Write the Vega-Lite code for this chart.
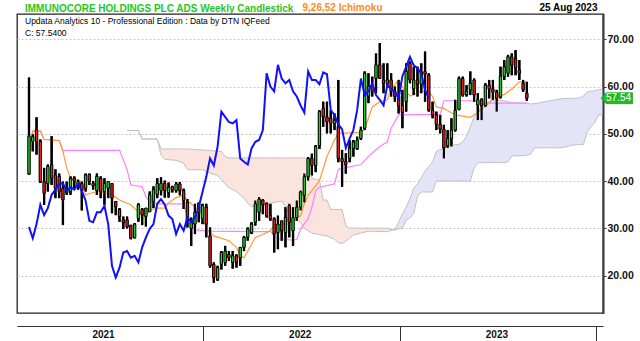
{
 "$schema": "https://vega.github.io/schema/vega-lite/v6.json",
 "width": 586, "height": 299,
 "autosize": {"type": "none"},
 "padding": {"left": 17, "top": 14, "right": 37, "bottom": 28},
 "background": "#ffffff",
 "title": {"text": "IMMUNOCORE HOLDINGS PLC ADS Weekly Candlestick", "subtitle": ["Updata Analytics 10 - Professional Edition : Data by DTN IQFeed", "C: 57.5400"], "anchor": "start", "frame": "group", "orient": "top", "offset": -35, "dx": 8, "font": "Liberation Sans", "fontSize": 10, "fontWeight": "bold", "color": "#1ec81e", "subtitleFont": "Liberation Sans", "subtitleFontSize": 8.5, "subtitleColor": "#000000", "subtitlePadding": 3, "subtitleLineHeight": 12},
 "config": {"view": {"stroke": "#222222", "strokeWidth": 1.3}, "font": "Liberation Sans"},
 "datasets": {
  "candles": [
{"d":"2021-02-12","o":41.5,"h":61.9,"l":41.3,"c":49.5},
{"d":"2021-02-19","o":48.4,"h":49.9,"l":46.3,"c":49.4},
{"d":"2021-02-26","o":50.9,"h":53.5,"l":45.6,"c":48.4},
{"d":"2021-03-05","o":48.4,"h":48.8,"l":39.6,"c":39.9},
{"d":"2021-03-12","o":39.9,"h":42.8,"l":35.0,"c":37.4},
{"d":"2021-03-19","o":39.5,"h":43.5,"l":37.8,"c":43.1},
{"d":"2021-03-26","o":43.5,"h":49.5,"l":39.2,"c":40.6},
{"d":"2021-04-02","o":41.3,"h":42.5,"l":36.4,"c":38.5},
{"d":"2021-04-09","o":41.0,"h":41.6,"l":36.4,"c":37.8},
{"d":"2021-04-16","o":38.5,"h":39.9,"l":30.7,"c":36.0},
{"d":"2021-04-23","o":37.5,"h":39.9,"l":37.1,"c":38.5},
{"d":"2021-04-30","o":37.8,"h":41.0,"l":37.1,"c":40.6},
{"d":"2021-05-07","o":40.6,"h":41.0,"l":38.5,"c":40.0},
{"d":"2021-05-14","o":38.8,"h":40.3,"l":38.2,"c":39.9},
{"d":"2021-05-21","o":39.5,"h":39.9,"l":33.8,"c":38.0},
{"d":"2021-05-28","o":38.5,"h":41.6,"l":37.8,"c":41.3},
{"d":"2021-06-04","o":41.4,"h":41.6,"l":39.2,"c":40.0},
{"d":"2021-06-11","o":39.5,"h":40.0,"l":38.2,"c":39.0},
{"d":"2021-06-18","o":38.0,"h":41.6,"l":37.1,"c":41.0},
{"d":"2021-06-25","o":40.6,"h":41.0,"l":36.4,"c":37.8},
{"d":"2021-07-02","o":37.8,"h":40.6,"l":35.0,"c":39.5},
{"d":"2021-07-09","o":38.5,"h":39.9,"l":36.4,"c":39.9},
{"d":"2021-07-16","o":39.5,"h":39.5,"l":33.2,"c":36.4},
{"d":"2021-07-23","o":35.7,"h":35.7,"l":32.8,"c":34.6},
{"d":"2021-07-30","o":34.0,"h":34.3,"l":31.4,"c":32.5},
{"d":"2021-08-06","o":31.8,"h":32.5,"l":29.9,"c":31.2},
{"d":"2021-08-13","o":31.8,"h":32.5,"l":30.0,"c":30.3},
{"d":"2021-08-20","o":30.7,"h":30.7,"l":27.7,"c":27.9},
{"d":"2021-08-27","o":28.0,"h":31.1,"l":27.9,"c":30.9},
{"d":"2021-09-03","o":32.1,"h":35.3,"l":31.4,"c":35.0},
{"d":"2021-09-10","o":34.0,"h":34.3,"l":30.7,"c":32.8},
{"d":"2021-09-17","o":32.5,"h":34.3,"l":30.4,"c":34.3},
{"d":"2021-09-24","o":33.5,"h":37.8,"l":33.5,"c":37.1},
{"d":"2021-10-01","o":35.7,"h":38.9,"l":34.3,"c":38.2},
{"d":"2021-10-08","o":37.2,"h":40.6,"l":36.4,"c":39.5},
{"d":"2021-10-15","o":38.0,"h":40.8,"l":37.0,"c":39.5},
{"d":"2021-10-22","o":39.5,"h":40.1,"l":36.5,"c":38.0},
{"d":"2021-10-29","o":37.6,"h":39.7,"l":36.5,"c":38.7},
{"d":"2021-11-05","o":38.8,"h":39.0,"l":37.6,"c":38.2},
{"d":"2021-11-12","o":38.0,"h":39.8,"l":37.6,"c":39.4},
{"d":"2021-11-19","o":39.4,"h":39.8,"l":37.0,"c":38.0},
{"d":"2021-11-26","o":38.0,"h":38.4,"l":34.1,"c":35.9},
{"d":"2021-12-03","o":35.5,"h":36.2,"l":30.2,"c":31.6},
{"d":"2021-12-10","o":30.0,"h":32.3,"l":26.3,"c":31.3},
{"d":"2021-12-17","o":30.9,"h":35.2,"l":28.8,"c":33.4},
{"d":"2021-12-24","o":35.2,"h":35.5,"l":31.3,"c":33.4},
{"d":"2021-12-31","o":32.0,"h":35.2,"l":30.9,"c":34.8},
{"d":"2022-01-07","o":34.5,"h":35.2,"l":28.1,"c":30.9},
{"d":"2022-01-14","o":28.4,"h":30.2,"l":21.7,"c":22.1},
{"d":"2022-01-21","o":22.4,"h":22.8,"l":18.5,"c":19.6},
{"d":"2022-01-28","o":19.2,"h":22.1,"l":18.9,"c":21.7},
{"d":"2022-02-04","o":22.4,"h":25.2,"l":21.3,"c":24.9},
{"d":"2022-02-11","o":22.8,"h":26.3,"l":22.1,"c":25.2},
{"d":"2022-02-18","o":24.5,"h":25.2,"l":23.1,"c":23.8},
{"d":"2022-02-25","o":22.8,"h":25.2,"l":21.5,"c":24.2},
{"d":"2022-03-04","o":24.2,"h":24.5,"l":21.7,"c":22.8},
{"d":"2022-03-11","o":23.8,"h":26.0,"l":22.1,"c":26.0},
{"d":"2022-03-18","o":26.0,"h":28.4,"l":25.2,"c":28.1},
{"d":"2022-03-25","o":28.1,"h":30.2,"l":27.4,"c":29.9},
{"d":"2022-04-01","o":29.1,"h":31.3,"l":28.8,"c":30.9},
{"d":"2022-04-08","o":31.3,"h":35.9,"l":30.6,"c":35.2},
{"d":"2022-04-15","o":33.4,"h":36.6,"l":31.6,"c":36.2},
{"d":"2022-04-22","o":36.0,"h":36.2,"l":33.0,"c":35.0},
{"d":"2022-04-29","o":35.3,"h":35.5,"l":32.3,"c":32.7},
{"d":"2022-05-06","o":32.7,"h":35.2,"l":31.6,"c":32.0},
{"d":"2022-05-13","o":32.0,"h":32.3,"l":24.9,"c":28.8},
{"d":"2022-05-20","o":29.1,"h":32.7,"l":25.6,"c":30.9},
{"d":"2022-05-27","o":31.6,"h":31.6,"l":27.4,"c":29.5},
{"d":"2022-06-03","o":29.1,"h":34.5,"l":26.0,"c":32.3},
{"d":"2022-06-10","o":34.8,"h":35.2,"l":28.1,"c":31.3},
{"d":"2022-06-17","o":29.5,"h":34.5,"l":26.3,"c":32.3},
{"d":"2022-06-24","o":32.3,"h":35.9,"l":31.6,"c":34.5},
{"d":"2022-07-01","o":34.5,"h":38.0,"l":33.8,"c":37.7},
{"d":"2022-07-08","o":37.0,"h":41.6,"l":35.5,"c":40.9},
{"d":"2022-07-15","o":40.9,"h":45.1,"l":40.1,"c":44.8},
{"d":"2022-07-22","o":44.8,"h":45.8,"l":41.2,"c":43.3},
{"d":"2022-07-29","o":43.3,"h":47.6,"l":41.9,"c":47.3},
{"d":"2022-08-05","o":47.5,"h":55.0,"l":46.8,"c":54.7},
{"d":"2022-08-12","o":55.4,"h":56.8,"l":51.5,"c":53.6},
{"d":"2022-08-19","o":53.6,"h":56.8,"l":50.1,"c":52.5},
{"d":"2022-08-26","o":53.3,"h":55.0,"l":50.1,"c":52.2},
{"d":"2022-09-02","o":52.2,"h":54.3,"l":50.8,"c":52.9},
{"d":"2022-09-09","o":51.5,"h":61.4,"l":44.0,"c":44.8},
{"d":"2022-09-16","o":44.8,"h":46.6,"l":38.8,"c":44.1},
{"d":"2022-09-23","o":44.1,"h":45.9,"l":41.6,"c":43.5},
{"d":"2022-09-30","o":44.8,"h":48.7,"l":44.0,"c":46.9},
{"d":"2022-10-07","o":46.9,"h":48.7,"l":45.2,"c":48.3},
{"d":"2022-10-14","o":46.8,"h":49.4,"l":46.6,"c":48.7},
{"d":"2022-10-21","o":49.0,"h":51.5,"l":48.7,"c":50.8},
{"d":"2022-10-28","o":51.2,"h":63.2,"l":50.8,"c":62.8},
{"d":"2022-11-04","o":58.0,"h":62.8,"l":56.5,"c":60.0},
{"d":"2022-11-11","o":60.0,"h":62.1,"l":57.9,"c":59.0},
{"d":"2022-11-18","o":61.7,"h":67.0,"l":58.6,"c":64.6},
{"d":"2022-11-25","o":64.6,"h":69.2,"l":62.1,"c":61.7},
{"d":"2022-12-02","o":61.4,"h":64.9,"l":58.6,"c":60.7},
{"d":"2022-12-09","o":60.7,"h":64.9,"l":60.0,"c":61.4},
{"d":"2022-12-16","o":61.4,"h":62.8,"l":57.9,"c":59.0},
{"d":"2022-12-23","o":59.0,"h":60.0,"l":56.8,"c":57.9},
{"d":"2022-12-30","o":58.0,"h":61.4,"l":54.3,"c":56.0},
{"d":"2023-01-06","o":56.0,"h":59.3,"l":51.2,"c":54.5},
{"d":"2023-01-13","o":56.8,"h":64.9,"l":54.7,"c":63.2},
{"d":"2023-01-20","o":64.9,"h":65.3,"l":60.7,"c":61.4},
{"d":"2023-01-27","o":59.5,"h":64.2,"l":58.2,"c":61.4},
{"d":"2023-02-03","o":61.4,"h":64.2,"l":57.9,"c":60.5},
{"d":"2023-02-10","o":60.5,"h":64.9,"l":58.6,"c":63.0},
{"d":"2023-02-17","o":63.2,"h":67.4,"l":56.8,"c":62.6},
{"d":"2023-02-24","o":62.4,"h":62.8,"l":54.7,"c":55.0},
{"d":"2023-03-03","o":55.0,"h":56.8,"l":53.3,"c":54.0},
{"d":"2023-03-10","o":54.0,"h":54.7,"l":50.8,"c":52.0},
{"d":"2023-03-17","o":52.0,"h":54.0,"l":50.1,"c":51.0},
{"d":"2023-03-24","o":51.0,"h":51.9,"l":44.8,"c":47.0},
{"d":"2023-03-31","o":47.5,"h":50.8,"l":47.0,"c":49.0},
{"d":"2023-04-07","o":49.0,"h":53.3,"l":47.3,"c":50.8},
{"d":"2023-04-14","o":50.8,"h":57.2,"l":50.5,"c":55.0},
{"d":"2023-04-21","o":55.2,"h":62.1,"l":55.0,"c":61.7},
{"d":"2023-04-28","o":61.7,"h":62.1,"l":57.9,"c":58.2},
{"d":"2023-05-05","o":58.3,"h":60.3,"l":57.9,"c":59.0},
{"d":"2023-05-12","o":59.3,"h":63.2,"l":58.2,"c":60.7},
{"d":"2023-05-19","o":61.4,"h":61.7,"l":56.8,"c":58.2},
{"d":"2023-05-26","o":56.1,"h":58.6,"l":52.9,"c":57.2},
{"d":"2023-06-02","o":57.2,"h":57.5,"l":52.9,"c":56.0},
{"d":"2023-06-09","o":56.0,"h":60.7,"l":55.7,"c":60.3},
{"d":"2023-06-16","o":60.3,"h":61.4,"l":57.5,"c":59.5},
{"d":"2023-06-23","o":59.5,"h":61.4,"l":57.2,"c":58.8},
{"d":"2023-06-30","o":58.8,"h":59.3,"l":54.7,"c":57.5},
{"d":"2023-07-07","o":57.8,"h":64.2,"l":57.5,"c":62.2},
{"d":"2023-07-14","o":62.2,"h":65.6,"l":61.4,"c":64.2},
{"d":"2023-07-21","o":62.8,"h":66.7,"l":62.1,"c":66.3},
{"d":"2023-07-28","o":66.3,"h":67.0,"l":62.4,"c":64.5},
{"d":"2023-08-04","o":65.9,"h":67.7,"l":62.4,"c":63.9},
{"d":"2023-08-11","o":63.5,"h":65.6,"l":61.4,"c":62.8},
{"d":"2023-08-18","o":60.7,"h":61.4,"l":58.9,"c":59.3},
{"d":"2023-08-25","o":58.6,"h":61.0,"l":57.0,"c":57.54}
  ],
  "chikou": [
{"d":"2021-02-12","v":30.3},{"d":"2021-02-19","v":27.9},{"d":"2021-02-26","v":30.9},{"d":"2021-03-05","v":35.0},{"d":"2021-03-12","v":32.8},{"d":"2021-03-19","v":34.3},{"d":"2021-03-26","v":37.1},{"d":"2021-04-02","v":38.2},{"d":"2021-04-09","v":39.5},{"d":"2021-04-16","v":39.5},{"d":"2021-04-23","v":38.0},{"d":"2021-04-30","v":38.7},{"d":"2021-05-07","v":38.2},{"d":"2021-05-14","v":39.4},{"d":"2021-05-21","v":38.0},{"d":"2021-05-28","v":35.9},{"d":"2021-06-04","v":31.6},{"d":"2021-06-11","v":31.3},{"d":"2021-06-18","v":33.4},{"d":"2021-06-25","v":33.4},{"d":"2021-07-02","v":34.8},{"d":"2021-07-09","v":30.9},{"d":"2021-07-16","v":22.1},{"d":"2021-07-23","v":19.6},{"d":"2021-07-30","v":21.7},{"d":"2021-08-06","v":24.9},{"d":"2021-08-13","v":25.2},{"d":"2021-08-20","v":23.8},{"d":"2021-08-27","v":24.2},{"d":"2021-09-03","v":22.8},{"d":"2021-09-10","v":26.0},{"d":"2021-09-17","v":28.1},{"d":"2021-09-24","v":29.9},{"d":"2021-10-01","v":30.9},{"d":"2021-10-08","v":35.2},{"d":"2021-10-15","v":36.2},{"d":"2021-10-22","v":35.0},{"d":"2021-10-29","v":32.7},{"d":"2021-11-05","v":32.0},{"d":"2021-11-12","v":28.8},{"d":"2021-11-19","v":30.9},{"d":"2021-11-26","v":29.5},{"d":"2021-12-03","v":32.3},{"d":"2021-12-10","v":31.3},{"d":"2021-12-17","v":32.3},{"d":"2021-12-24","v":34.5},{"d":"2021-12-31","v":37.7},{"d":"2022-01-07","v":40.9},{"d":"2022-01-14","v":44.8},{"d":"2022-01-21","v":43.3},{"d":"2022-01-28","v":47.3},{"d":"2022-02-04","v":54.7},{"d":"2022-02-11","v":53.6},{"d":"2022-02-18","v":52.5},{"d":"2022-02-25","v":52.2},{"d":"2022-03-04","v":52.9},{"d":"2022-03-11","v":44.8},{"d":"2022-03-18","v":44.1},{"d":"2022-03-25","v":43.5},{"d":"2022-04-01","v":46.9},{"d":"2022-04-08","v":48.3},{"d":"2022-04-15","v":48.7},{"d":"2022-04-22","v":50.8},{"d":"2022-04-29","v":62.8},{"d":"2022-05-06","v":60.0},{"d":"2022-05-13","v":59.0},{"d":"2022-05-20","v":64.6},{"d":"2022-05-27","v":61.7},{"d":"2022-06-03","v":60.7},{"d":"2022-06-10","v":61.4},{"d":"2022-06-17","v":59.0},{"d":"2022-06-24","v":57.9},{"d":"2022-07-01","v":56.0},{"d":"2022-07-08","v":54.5},{"d":"2022-07-15","v":63.2},{"d":"2022-07-22","v":61.4},{"d":"2022-07-29","v":61.4},{"d":"2022-08-05","v":60.5},{"d":"2022-08-12","v":63.0},{"d":"2022-08-19","v":62.6},{"d":"2022-08-26","v":55.0},{"d":"2022-09-02","v":54.0},{"d":"2022-09-09","v":52.0},{"d":"2022-09-16","v":51.0},{"d":"2022-09-23","v":47.0},{"d":"2022-09-30","v":49.0},{"d":"2022-10-07","v":50.8},{"d":"2022-10-14","v":55.0},{"d":"2022-10-21","v":61.7},{"d":"2022-10-28","v":58.2},{"d":"2022-11-04","v":59.0},{"d":"2022-11-11","v":60.7},{"d":"2022-11-18","v":58.2},{"d":"2022-11-25","v":57.2},{"d":"2022-12-02","v":56.0},{"d":"2022-12-09","v":60.3},{"d":"2022-12-16","v":59.5},{"d":"2022-12-23","v":58.8},{"d":"2022-12-30","v":57.5},{"d":"2023-01-06","v":62.2},{"d":"2023-01-13","v":64.2},{"d":"2023-01-20","v":66.3},{"d":"2023-01-27","v":64.5},{"d":"2023-02-03","v":63.9},{"d":"2023-02-10","v":62.8},{"d":"2023-02-17","v":59.3},{"d":"2023-02-24","v":57.54}
  ],
  "tenkan": [
{"d":"2021-02-12","v":45.6},{"d":"2021-02-19","v":50.6},{"d":"2021-03-05","v":50.6},{"d":"2021-03-12","v":48.8},{"d":"2021-04-09","v":48.6},{"d":"2021-04-16","v":46.3},{"d":"2021-04-23","v":42.8},{"d":"2021-04-30","v":40.6},{"d":"2021-05-21","v":39.9},{"d":"2021-05-28","v":37.1},{"d":"2021-06-18","v":37.8},{"d":"2021-07-09","v":37.4},{"d":"2021-07-16","v":37.1},{"d":"2021-07-30","v":36.0},{"d":"2021-08-20","v":35.0},{"d":"2021-09-03","v":33.5},{"d":"2021-09-17","v":32.8},{"d":"2021-09-24","v":33.9},{"d":"2021-10-08","v":34.3},{"d":"2021-10-22","v":34.3},{"d":"2021-10-29","v":35.4},{"d":"2021-11-12","v":36.5},{"d":"2021-11-26","v":37.0},{"d":"2021-12-03","v":35.9},{"d":"2021-12-17","v":34.5},{"d":"2021-12-31","v":32.7},{"d":"2022-01-07","v":29.9},{"d":"2022-01-21","v":28.4},{"d":"2022-02-18","v":27.4},{"d":"2022-03-04","v":26.0},{"d":"2022-03-11","v":24.2},{"d":"2022-03-18","v":23.8},{"d":"2022-03-25","v":25.2},{"d":"2022-04-08","v":28.1},{"d":"2022-04-22","v":28.7},{"d":"2022-05-06","v":29.5},{"d":"2022-05-13","v":30.6},{"d":"2022-05-27","v":30.9},{"d":"2022-06-10","v":30.9},{"d":"2022-06-17","v":31.6},{"d":"2022-07-01","v":32.7},{"d":"2022-07-08","v":35.2},{"d":"2022-07-15","v":37.0},{"d":"2022-07-22","v":38.0},{"d":"2022-08-05","v":40.1},{"d":"2022-08-19","v":45.2},{"d":"2022-09-02","v":48.7},{"d":"2022-09-09","v":50.1},{"d":"2022-10-21","v":50.3},{"d":"2022-10-28","v":51.0},{"d":"2022-11-11","v":55.7},{"d":"2022-11-25","v":56.8},{"d":"2022-12-09","v":57.2},{"d":"2022-12-16","v":59.6},{"d":"2022-12-30","v":61.4},{"d":"2023-01-06","v":60.0},{"d":"2023-01-20","v":58.0},{"d":"2023-02-03","v":58.6},{"d":"2023-02-10","v":59.0},{"d":"2023-02-24","v":58.9},{"d":"2023-03-03","v":57.9},{"d":"2023-03-10","v":55.7},{"d":"2023-03-24","v":55.4},{"d":"2023-04-14","v":54.0},{"d":"2023-05-12","v":53.5},{"d":"2023-05-26","v":54.5},{"d":"2023-06-16","v":56.5},{"d":"2023-06-23","v":57.7},{"d":"2023-07-14","v":58.3},{"d":"2023-07-28","v":59.5},{"d":"2023-08-11","v":61.0},{"d":"2023-08-25","v":61.0}
  ],
  "kijun": [
{"d":"2021-02-12","v":45.6},{"d":"2021-02-19","v":50.6},{"d":"2021-03-05","v":50.6},{"d":"2021-03-12","v":48.8},{"d":"2021-04-09","v":48.6},{"d":"2021-04-16","v":46.5},{"d":"2021-07-30","v":46.5},{"d":"2021-08-06","v":44.5},{"d":"2021-08-13","v":42.4},{"d":"2021-08-20","v":39.2},{"d":"2021-09-10","v":38.8},{"d":"2021-09-17","v":36.7},{"d":"2021-09-24","v":35.7},{"d":"2021-10-08","v":35.2},{"d":"2021-11-26","v":35.2},{"d":"2021-12-03","v":32.3},{"d":"2021-12-10","v":30.2},{"d":"2021-12-17","v":29.7},{"d":"2022-01-14","v":29.4},{"d":"2022-04-29","v":29.3},{"d":"2022-05-06","v":29.4},{"d":"2022-05-13","v":28.4},{"d":"2022-05-20","v":27.8},{"d":"2022-06-17","v":27.5},{"d":"2022-06-24","v":27.7},{"d":"2022-07-01","v":29.9},{"d":"2022-07-08","v":31.0},{"d":"2022-07-15","v":32.0},{"d":"2022-07-22","v":34.5},{"d":"2022-07-29","v":38.0},{"d":"2022-08-05","v":38.7},{"d":"2022-09-02","v":39.4},{"d":"2022-09-09","v":42.5},{"d":"2022-10-21","v":43.5},{"d":"2022-11-04","v":45.2},{"d":"2022-11-25","v":47.3},{"d":"2022-12-09","v":48.3},{"d":"2022-12-16","v":51.2},{"d":"2022-12-30","v":54.0},{"d":"2023-03-17","v":54.1},{"d":"2023-03-24","v":57.0},{"d":"2023-05-19","v":57.0},{"d":"2023-05-26","v":56.5},{"d":"2023-08-25","v":56.5}
  ],
  "cloud": [
{"d":"2021-08-13","a":50.7,"b":50.7,"z":"bear"},{"d":"2021-09-03","a":50.7,"b":50.7,"z":"bear"},{"d":"2021-09-10","a":48.9,"b":48.9,"z":"bear"},{"d":"2021-10-08","a":48.9,"b":48.9,"z":"bear"},{"d":"2021-10-15","a":45.5,"b":46.8,"z":"bear"},{"d":"2021-10-22","a":44.6,"b":46.8,"z":"bear"},{"d":"2021-11-12","a":44.4,"b":46.8,"z":"bear"},{"d":"2021-11-26","a":43.8,"b":46.8,"z":"bear"},{"d":"2021-12-03","a":42.4,"b":46.8,"z":"bear"},{"d":"2021-12-31","a":42.4,"b":46.6,"z":"bear"},{"d":"2022-01-14","a":41.7,"b":46.5,"z":"bear"},{"d":"2022-01-28","a":41.2,"b":46.3,"z":"bear"},{"d":"2022-02-04","a":40.3,"b":46.3,"z":"bear"},{"d":"2022-02-11","a":39.4,"b":45.2,"z":"bear"},{"d":"2022-02-18","a":38.6,"b":44.9,"z":"bear"},{"d":"2022-03-04","a":37.8,"b":44.9,"z":"bear"},{"d":"2022-03-18","a":36.4,"b":44.9,"z":"bear"},{"d":"2022-03-25","a":35.3,"b":44.9,"z":"bear"},{"d":"2022-04-01","a":34.6,"b":44.9,"z":"bear"},{"d":"2022-04-22","a":34.6,"b":44.9,"z":"bear"},{"d":"2022-05-06","a":35.3,"b":44.9,"z":"bear"},{"d":"2022-05-27","a":35.8,"b":44.9,"z":"bear"},{"d":"2022-06-03","a":34.6,"b":44.9,"z":"bear"},{"d":"2022-06-10","a":33.2,"b":44.9,"z":"bear"},{"d":"2022-06-17","a":32.3,"b":44.9,"z":"bear"},{"d":"2022-07-01","a":31.2,"b":44.9,"z":"bear"},{"d":"2022-07-08","a":30.0,"b":44.9,"z":"bear"},{"d":"2022-07-15","a":29.5,"b":44.8,"z":"bear"},{"d":"2022-07-22","a":29.0,"b":40.6,"z":"bear"},{"d":"2022-08-05","a":28.7,"b":40.2,"z":"bear"},{"d":"2022-08-12","a":28.5,"b":36.0,"z":"bear"},{"d":"2022-08-19","a":28.4,"b":36.0,"z":"bear"},{"d":"2022-08-26","a":28.0,"b":34.0,"z":"bear"},{"d":"2022-09-02","a":27.7,"b":34.0,"z":"bear"},{"d":"2022-09-09","a":27.0,"b":34.0,"z":"bear"},{"d":"2022-09-16","a":26.8,"b":34.0,"z":"bear"},{"d":"2022-09-23","a":27.3,"b":30.5,"z":"bear"},{"d":"2022-09-30","a":27.9,"b":30.05,"z":"bear"},{"d":"2022-10-07","a":28.6,"b":30.05,"z":"bear"},{"d":"2022-10-21","a":29.0,"b":30.05,"z":"bear"},{"d":"2022-11-04","a":29.4,"b":30.05,"z":"bear"},{"d":"2022-12-09","a":29.3,"b":30.05,"z":"bear"},{"d":"2022-12-16","a":29.6,"b":29.8,"z":"bear"},{"d":"2022-12-23","a":29.7,"b":29.7,"z":"bear"},
{"d":"2022-12-23","a":29.7,"b":29.7,"z":"bull"},{"d":"2022-12-30","a":31.3,"b":29.9,"z":"bull"},{"d":"2023-01-06","a":33.1,"b":30.05,"z":"bull"},{"d":"2023-01-13","a":34.5,"b":31.8,"z":"bull"},{"d":"2023-01-20","a":36.25,"b":32.2,"z":"bull"},{"d":"2023-01-27","a":38.5,"b":33.1,"z":"bull"},{"d":"2023-02-03","a":39.4,"b":36.8,"z":"bull"},{"d":"2023-02-10","a":40.75,"b":37.7,"z":"bull"},{"d":"2023-02-17","a":42.15,"b":37.7,"z":"bull"},{"d":"2023-02-24","a":43.15,"b":37.7,"z":"bull"},{"d":"2023-03-03","a":44.05,"b":37.7,"z":"bull"},{"d":"2023-03-10","a":46.3,"b":40.0,"z":"bull"},{"d":"2023-03-24","a":47.0,"b":40.0,"z":"bull"},{"d":"2023-04-07","a":47.6,"b":40.0,"z":"bull"},{"d":"2023-04-21","a":47.8,"b":40.0,"z":"bull"},{"d":"2023-04-28","a":48.3,"b":40.0,"z":"bull"},{"d":"2023-05-05","a":49.5,"b":40.0,"z":"bull"},{"d":"2023-05-12","a":51.5,"b":40.0,"z":"bull"},{"d":"2023-05-19","a":53.5,"b":42.8,"z":"bull"},{"d":"2023-05-26","a":54.5,"b":43.9,"z":"bull"},{"d":"2023-06-02","a":56.0,"b":43.9,"z":"bull"},{"d":"2023-06-16","a":56.8,"b":43.9,"z":"bull"},{"d":"2023-06-30","a":57.2,"b":43.9,"z":"bull"},{"d":"2023-07-14","a":57.0,"b":43.9,"z":"bull"},{"d":"2023-07-21","a":56.8,"b":44.1,"z":"bull"},{"d":"2023-07-28","a":56.6,"b":45.3,"z":"bull"},{"d":"2023-08-18","a":56.5,"b":45.4,"z":"bull"},{"d":"2023-08-25","a":56.5,"b":45.5,"z":"bull"},{"d":"2023-09-01","a":56.3,"b":45.7,"z":"bull"},{"d":"2023-09-08","a":56.4,"b":47.05,"z":"bull"},{"d":"2023-09-15","a":56.5,"b":47.05,"z":"bull"},{"d":"2023-10-06","a":57.0,"b":47.05,"z":"bull"},{"d":"2023-10-27","a":57.4,"b":47.05,"z":"bull"},{"d":"2023-11-10","a":57.5,"b":47.4,"z":"bull"},{"d":"2023-11-17","a":57.5,"b":47.6,"z":"bull"},{"d":"2023-12-01","a":57.6,"b":47.75,"z":"bull"},{"d":"2023-12-08","a":58.0,"b":47.75,"z":"bull"},{"d":"2023-12-15","a":58.9,"b":50.4,"z":"bull"},{"d":"2023-12-22","a":59.0,"b":51.5,"z":"bull"},{"d":"2023-12-29","a":59.1,"b":52.35,"z":"bull"},{"d":"2024-01-05","a":59.3,"b":54.0,"z":"bull"},{"d":"2024-01-12","a":59.5,"b":54.0,"z":"bull"}
  ],
  "lastbar": [{"d": "2024-01-04", "p": 57.54, "t": "57.54"}]
 },
 "layer": [
  {"data": {"name": "candles"}, "mark": {"type": "rule", "color": "#000000", "strokeWidth": 2.2},
   "encoding": {
    "x": {"field": "d", "type": "temporal",
     "scale": {"domain": ["2021-01-30", "2024-01-04"]},
     "axis": {"orient": "bottom", "offset": 13,
      "values": ["2022-01-01", "2023-01-01", "2024-01-01"],
      "labelExpr": "toString(utcyear(datum.value) - 1)",
      "labelOffset": -100, "labelPadding": -7, "labelBaseline": "middle", "labelFont": "Liberation Sans", "labelFontSize": 10, "labelFontWeight": "bold", "labelColor": "#111111",
      "labelFlush": false, "labelOverlap": false, "labelBound": false,
      "tickSize": 15, "tickColor": "#333333", "domainColor": "#333333", "grid": false,
      "title": "9,26,52 Ichimoku", "titleColor": "#ff8c1a", "titleFont": "Liberation Sans", "titleFontSize": 10, "titleFontWeight": "bold",
      "titleX": 285, "titleY": -319, "titleAlign": "left", "titleBaseline": "middle", "titleAnchor": "start"}},
    "y": {"field": "l", "type": "quantitative", "scale": {"domain": [12.1, 75.35], "nice": false, "zero": false},
     "axis": {"orient": "right",
      "values": [20, 30, 40, 50, 60, 70],
      "format": ".2f",
      "labelFont": "Liberation Sans", "labelFontSize": 10.5, "labelFontWeight": "bold", "labelColor": "#111111", "labelPadding": 1, "labelOverlap": false, "labelFlush": false,
      "tickSize": 3, "tickColor": "#333333", "domainColor": "#333333", "domainWidth": 3, "domainDash": [1, 1],
      "grid": true, "gridColor": "#c8c8c8", "gridDash": [2, 2],
      "title": "25 Aug 2023", "titleAngle": 0, "titleX": -6, "titleY": -7, "titleAlign": "right", "titleBaseline": "middle",
      "titleFont": "Liberation Sans", "titleFontSize": 10, "titleFontWeight": "bold", "titleColor": "#000000"}},
    "y2": {"field": "h"}}},
  {"data": {"name": "cloud"}, "mark": {"type": "area", "clip": true},
   "encoding": {
    "x": {"field": "d", "type": "temporal"},
    "y": {"field": "a", "type": "quantitative"},
    "y2": {"field": "b"},
    "color": {"field": "z", "type": "nominal", "scale": {"domain": ["bear", "bull"], "range": ["#fbe3de", "#e3e4f8"]}, "legend": null}
   }},
  {"data": {"name": "cloud"}, "mark": {"type": "line", "color": "#c2c2c2", "strokeWidth": 1, "clip": true},
   "encoding": {"x": {"field": "d", "type": "temporal"}, "y": {"field": "a", "type": "quantitative"}}},
  {"data": {"name": "cloud"}, "mark": {"type": "line", "color": "#c2c2c2", "strokeWidth": 1, "clip": true},
   "encoding": {"x": {"field": "d", "type": "temporal"}, "y": {"field": "b", "type": "quantitative"}}},
  {"data": {"name": "kijun"}, "mark": {"type": "line", "color": "#ff80ff", "strokeWidth": 1.2, "clip": true},
   "encoding": {"x": {"field": "d", "type": "temporal"}, "y": {"field": "v", "type": "quantitative"}}},
  {"data": {"name": "tenkan"}, "mark": {"type": "line", "color": "#ff9a33", "strokeWidth": 1.2, "clip": true},
   "encoding": {"x": {"field": "d", "type": "temporal"}, "y": {"field": "v", "type": "quantitative"}}},
  {"data": {"name": "candles"}, "mark": {"type": "rule", "color": "#000000", "strokeWidth": 2.2},
   "encoding": {"x": {"field": "d", "type": "temporal"}, "y": {"field": "l", "type": "quantitative"}, "y2": {"field": "h"}}},
  {"data": {"name": "candles"}, "mark": {"type": "bar", "width": 2.4, "stroke": "#000000", "strokeWidth": 1},
   "encoding": {"x": {"field": "d", "type": "temporal"}, "y": {"field": "o", "type": "quantitative"}, "y2": {"field": "c"},
    "fill": {"condition": {"test": "datum.c >= datum.o", "value": "#1fd11f"}, "value": "#ee1c1c"}}},
  {"data": {"name": "chikou"}, "mark": {"type": "line", "color": "#1010ff", "strokeWidth": 2, "clip": true},
   "encoding": {"x": {"field": "d", "type": "temporal"}, "y": {"field": "v", "type": "quantitative"}}},
  {"data": {"name": "lastbar"}, "mark": {"type": "point", "shape": "M0.55,0L1.5,-1L6.3,-1L6.3,1L1.5,1Z", "size": 121, "filled": true, "fill": "#22bb22", "stroke": "#118811", "strokeWidth": 0.6, "opacity": 1},
   "encoding": {"x": {"field": "d", "type": "temporal"}, "y": {"field": "p", "type": "quantitative"}}},
  {"data": {"name": "lastbar"}, "mark": {"type": "text", "dx": 8, "align": "left", "baseline": "middle", "color": "#ffffff", "font": "Liberation Sans", "fontSize": 10},
   "encoding": {"x": {"field": "d", "type": "temporal"}, "y": {"field": "p", "type": "quantitative"}, "text": {"field": "t"}}}
 ]
}
